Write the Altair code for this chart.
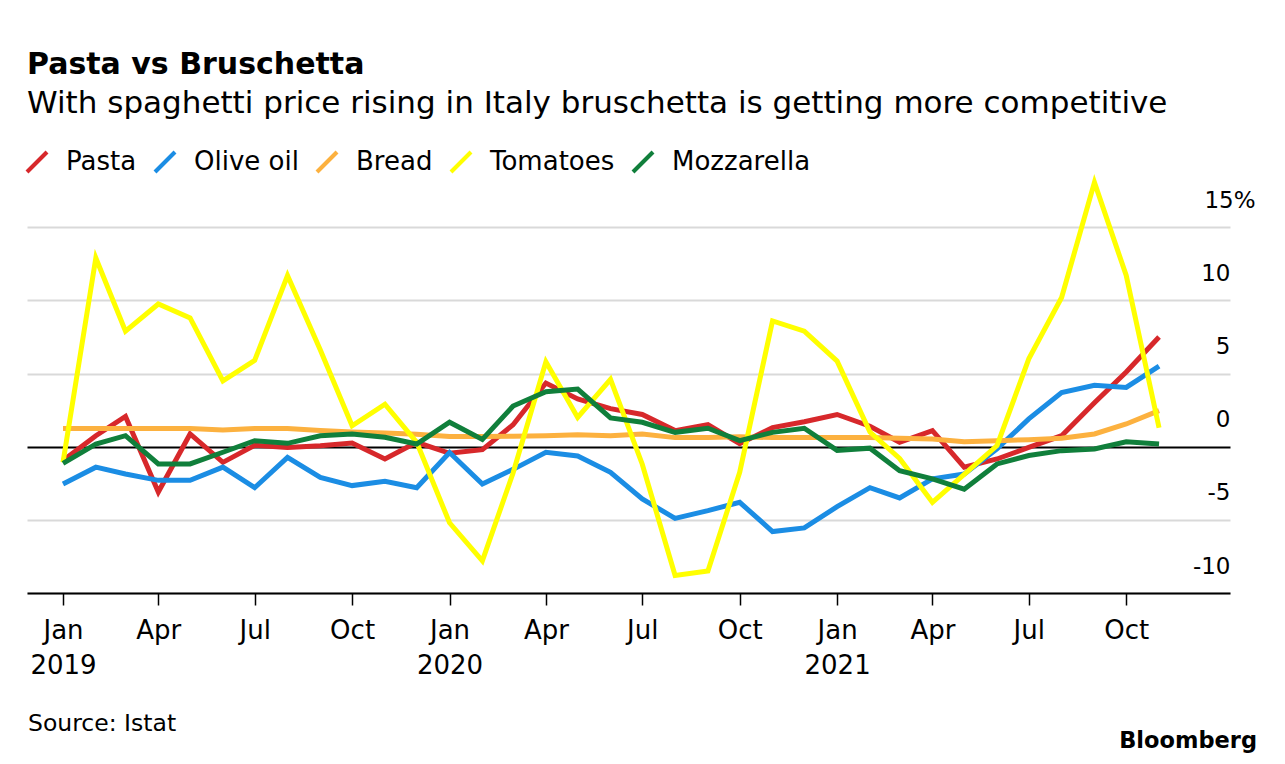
import altair as alt
import pandas as pd

# ---- data ----
months = [f"{y}-{m:02d}-01" for y in (2019, 2020, 2021) for m in range(1, 13)][:35]

series = ["Pasta", "Olive oil", "Bread", "Tomatoes", "Mozzarella"]
colors = ["#d7282b", "#1b8de4", "#fcb13f", "#ffff00", "#107f3b"]

pasta = [-0.95, 0.75, 2.07, -3.1, 0.87, -1.07, 0.1, -0.05, 0.07, 0.25, -0.84, 0.3,
         -0.45, -0.2, 1.5, 4.35, 3.26, 2.6, 2.2, 1.1, 1.5, 0.2, 1.3, 1.7,
         2.2, 1.4, 0.3, 1.1, -1.4, -0.84, -0.05, 0.75, 3.0, 5.1, 7.5]
olive_oil = [-2.55, -1.4, -1.87, -2.3, -2.3, -1.4, -2.8, -0.73, -2.1, -2.66, -2.37, -2.8,
             -0.4, -2.55, -1.55, -0.38, -0.63, -1.75, -3.57, -4.9, -4.37, -3.8, -5.8, -5.55,
             -4.1, -2.8, -3.5, -2.2, -1.87, -0.15, 1.9, 3.7, 4.2, 4.05, 5.5]
bread = [1.25, 1.25, 1.25, 1.25, 1.25, 1.14, 1.25, 1.25, 1.1, 1.0, 0.93, 0.85,
         0.7, 0.7, 0.72, 0.75, 0.82, 0.75, 0.87, 0.62, 0.62, 0.68, 0.62, 0.62,
         0.62, 0.62, 0.57, 0.53, 0.34, 0.41, 0.48, 0.57, 0.87, 1.55, 2.46]
tomatoes = [-1.07, 12.9, 7.9, 9.75, 8.8, 4.5, 5.9, 11.7, 6.6, 1.43, 2.9, 0.3,
            -5.2, -7.8, -1.8, 5.8, 2.0, 4.6, -1.2, -8.8, -8.5, -1.75, 8.6, 7.9,
            5.85, 1.0, -0.8, -3.8, -1.9, 0.07, 6.0, 10.2, 18.06, 11.7, 1.3]
mozzarella = [-1.14, 0.18, 0.75, -1.18, -1.18, -0.38, 0.41, 0.23, 0.75, 0.87, 0.64, 0.18,
              1.67, 0.5, 2.78, 3.76, 3.94, 1.97, 1.67, 0.98, 1.26, 0.41, 0.98, 1.26,
              -0.25, -0.1, -1.64, -2.2, -2.9, -1.18, -0.6, -0.27, -0.16, 0.34, 0.18]

y_ticks = [-10, -5, 0, 5, 10, 15]
x_tick_months = [(y, m) for y in (2019, 2020, 2021) for m in (1, 4, 7, 10)]

rows = []
for name, vals in zip(series, [pasta, olive_oil, bread, tomatoes, mozzarella]):
    for d, v in zip(months, vals):
        rows.append({"date": d, "series": name, "value": v})
df = pd.DataFrame(rows)

FONT = "DejaVu Sans"

x_enc = alt.X(
    "date:T",
    scale=alt.Scale(
        type="utc",
        domain=[alt.DateTime(year=2018, month=11, date=28, utc=True),
                alt.DateTime(year=2022, month=1, date=7, utc=True)],
    ),
    axis=alt.Axis(
        title=None,
        values=[alt.DateTime(year=y, month=m, date=1, utc=True) for y, m in x_tick_months],
        labelExpr="utcmonth(datum.value) == 0 ? [utcFormat(datum.value, '%b'), utcFormat(datum.value, '%Y')] : utcFormat(datum.value, '%b')",
        grid=False,
        domainColor="black",
        domainWidth=2,
        tickColor="black",
        tickWidth=1.5,
        tickSize=12,
        labelFont=FONT,
        labelFontSize=26,
        labelColor="black",
        labelPadding=12,
        labelLineHeight=35,
        labelBaseline="top",
        labelAlign="center",
        labelFlush=False,
        labelOverlap=False,
    ),
)

y_enc = alt.Y(
    "value:Q",
    scale=alt.Scale(domain=[-10, 18.5], nice=False, zero=False),
    axis=alt.Axis(
        title=None,
        orient="right",
        values=y_ticks,
        domain=False,
        ticks=False,
        tickSize=0,
        grid=True,
        gridColor={"condition": {"test": "datum.value === 0", "value": "black"}, "value": "#d9d9d9"},
        gridWidth=2,
        labelExpr="datum.value === 15 ? '15%' : toString(datum.value)",
        labelAlign="right",
        labelBaseline="middle",
        labelOffset=-27,
        labelPadding={"condition": {"test": "datum.value === 15", "value": 25}, "value": 0},
        labelFont=FONT,
        labelFontSize=23,
        labelColor="black",
    ),
)

lines = alt.Chart(df).mark_line(strokeWidth=5).encode(
    x=x_enc,
    y=y_enc,
    color=alt.Color(
        "series:N",
        scale=alt.Scale(domain=series, range=colors),
        legend=alt.Legend(
            title=None,
            orient="none",
            legendX=-3,
            legendY=-27,
            direction="horizontal",
            symbolType="M-1,1L1,-1",
            symbolSize=400,
            symbolStrokeWidth=4,
            labelFont=FONT,
            labelFontSize=26,
            labelColor="black",
            labelOffset=16,
            columnPadding=10,
            padding=0,
        ),
    ),
)

source = alt.Chart(pd.DataFrame({"t": ["Source: Istat"]})).mark_text(
    align="left", baseline="alphabetic", font=FONT, fontSize=23.5, color="black"
).encode(text="t:N", x=alt.value(1), y=alt.value(555))

logo = alt.Chart(pd.DataFrame({"t": ["Bloomberg"]})).mark_text(
    align="right", baseline="alphabetic", font=FONT, fontSize=22.5, fontWeight="bold", color="black"
).encode(text="t:N", x=alt.value(1230), y=alt.value(572))

chart = alt.layer(lines, source, logo).properties(
    width=1203,
    height=417,
    title=alt.Title(
        "Pasta vs Bruschetta",
        subtitle="With spaghetti price rising in Italy bruschetta is getting more competitive",
        anchor="start",
        frame="group",
        font=FONT,
        fontSize=30,
        fontWeight="bold",
        color="black",
        subtitleFont=FONT,
        subtitleFontSize=31,
        subtitleColor="black",
        subtitlePadding=9,
        offset=30,
    ),
    autosize=alt.AutoSizeParams(type="none"),
    padding={"left": 19, "top": 168, "right": 40, "bottom": 168},
).configure_view(stroke=None)

chart.save("out.html", embed_options={"renderer": "svg", "actions": False})
